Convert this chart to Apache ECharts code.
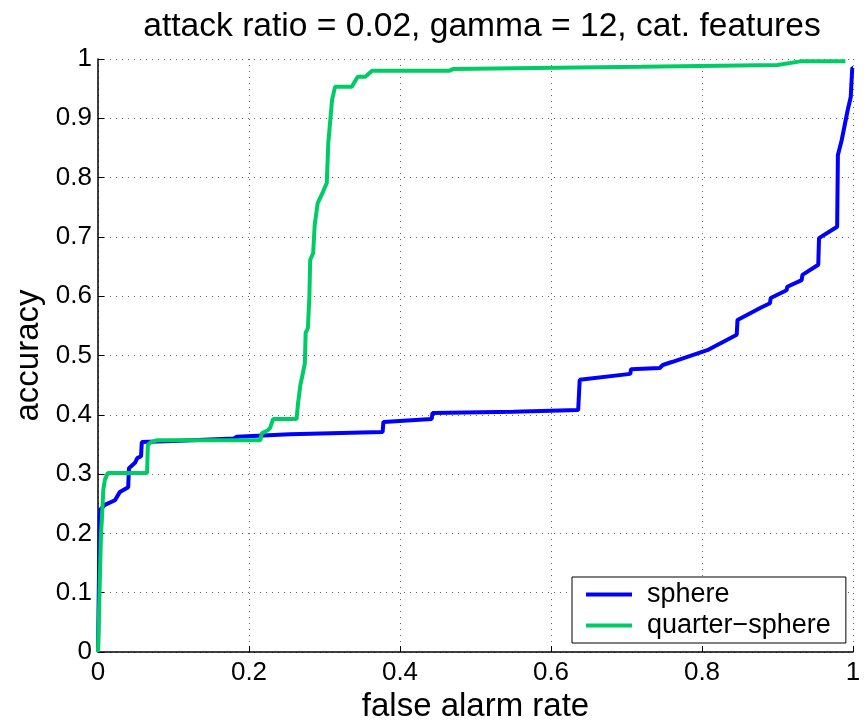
<!DOCTYPE html>
<html><head><meta charset="utf-8">
<script src="https://cdn.jsdelivr.net/npm/echarts@6/dist/echarts.min.js"></script>
<style>html,body{margin:0;padding:0;background:#fff}#c{width:866px;height:720px}</style>
</head><body><div id="c"></div>
<script>
const titleText = 'attack ratio = 0.02, gamma = 12, cat. features';
const xLabel = 'false alarm rate';
const yLabel = 'accuracy';
const seriesNames = ['sphere', 'quarter\u2212sphere'];
const sphere = [[0,0],[0.002,0.2],[0.003,0.24],[0.009,0.248],[0.0225,0.256],[0.029,0.27],[0.04,0.278],[0.041,0.31],[0.049,0.319],[0.052,0.327],[0.057,0.33],[0.058,0.354],[0.1,0.356],[0.18,0.36],[0.184,0.363],[0.254,0.367],[0.377,0.371],[0.378,0.388],[0.442,0.393],[0.443,0.403],[0.55,0.405],[0.636,0.408],[0.638,0.459],[0.705,0.469],[0.706,0.477],[0.744,0.479],[0.748,0.484],[0.76,0.489],[0.807,0.509],[0.846,0.535],[0.847,0.56],[0.877,0.58],[0.89,0.588],[0.891,0.597],[0.912,0.61],[0.913,0.616],[0.932,0.627],[0.933,0.636],[0.954,0.653],[0.955,0.698],[0.979,0.717],[0.98,0.838],[0.985,0.863],[0.993,0.914],[0.997,0.936],[0.999,0.985],[1.0,0.985]];
const quarterSphere = [[0,0],[0.002,0.1],[0.004,0.2],[0.005,0.22],[0.007,0.273],[0.009,0.29],[0.013,0.302],[0.065,0.302],[0.066,0.349],[0.07,0.354],[0.079,0.357],[0.215,0.357],[0.217,0.369],[0.225,0.374],[0.228,0.378],[0.232,0.393],[0.263,0.393],[0.265,0.42],[0.268,0.45],[0.27,0.462],[0.274,0.487],[0.275,0.538],[0.278,0.546],[0.28,0.6],[0.281,0.661],[0.285,0.673],[0.287,0.72],[0.291,0.757],[0.298,0.776],[0.303,0.791],[0.305,0.858],[0.31,0.931],[0.314,0.953],[0.336,0.953],[0.344,0.97],[0.354,0.97],[0.356,0.973],[0.363,0.98],[0.465,0.98],[0.47,0.983],[0.58,0.985],[0.72,0.987],[0.9,0.99],[0.93,0.996],[0.99,0.996]];
const colors = ['#0000ff', '#00cc66'];

const font = 'Liberation Sans, Arial, Helvetica, sans-serif';
const chart = echarts.init(document.getElementById('c'));
const gridLine = {show:true, lineStyle:{color:'#666', type:[1,5], width:1}};
chart.setOption({
  animation:false,
  title:{text:titleText, left:477, textAlign:'center', top:5, textStyle:{fontFamily:font, fontSize:33.6, fontWeight:'normal', color:'#000'}},
  grid:{left:98, right:13, top:59, bottom:68, containLabel:false, outerBoundsMode:'none'},
  xAxis:{type:'value', min:0, max:1, interval:0.2, name:xLabel, nameLocation:'middle', nameGap:34,
    nameTextStyle:{fontFamily:font, fontSize:33, color:'#000'},
    axisLine:{show:true, onZero:false, lineStyle:{color:'#000', width:1.5}},
    axisTick:{show:true, inside:true, length:6, lineStyle:{color:'#000'}},
    axisLabel:{fontFamily:font, fontSize:26, color:'#000', margin:8, formatter:v=>String(+v.toFixed(1))},
    splitLine:gridLine},
  yAxis:{type:'value', min:0, max:1, interval:0.1, name:yLabel, nameLocation:'middle', nameGap:53, nameRotate:90,
    nameTextStyle:{fontFamily:font, fontSize:33, color:'#000'},
    axisLine:{show:true, onZero:false, lineStyle:{color:'#000', width:1.5}},
    axisTick:{show:true, inside:true, length:6, lineStyle:{color:'#000'}},
    axisLabel:{fontFamily:font, fontSize:26, color:'#000', margin:6, formatter:v=>String(+v.toFixed(1))},
    splitLine:gridLine},
  legend:{orient:'vertical', left:572, top:577, backgroundColor:'#fff', borderColor:'#000', borderWidth:1,
    padding:[4,15,4,14], itemGap:4, itemWidth:46, itemHeight:4,
    textStyle:{fontFamily:font, fontSize:27, color:'#000', padding:[0,0,0,10]},
    data:seriesNames.map(n=>({name:n, icon:'rect'}))},
  series:[
    {name:seriesNames[0], type:'line', data:sphere, showSymbol:false, lineStyle:{color:colors[0], width:4}, itemStyle:{color:colors[0]}, z:2},
    {name:seriesNames[1], type:'line', data:quarterSphere, showSymbol:false, lineStyle:{color:colors[1], width:4}, itemStyle:{color:colors[1]}, z:3}
  ]
});
</script></body></html>
